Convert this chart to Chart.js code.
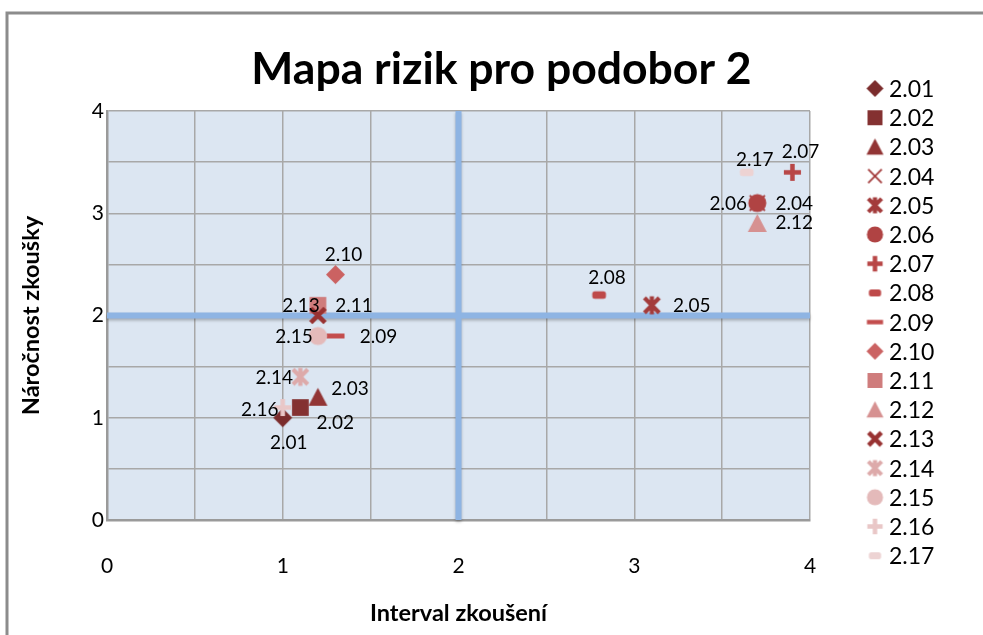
<!DOCTYPE html>
<html>
<head>
<meta charset="utf-8">
<script src="https://cdn.jsdelivr.net/npm/chart.js@4/dist/chart.umd.min.js"></script>
<style>
  html, body { margin: 0; padding: 0; background: #ffffff; }
  #wrap { position: relative; width: 983px; height: 635px; }
</style>
</head>
<body>
<div id="wrap"><canvas id="c" width="983" height="635"></canvas></div>
<script>
// ---- data ----
const seriesNames = ['2.01','2.02','2.03','2.04','2.05','2.06','2.07','2.08','2.09','2.10','2.11','2.12','2.13','2.14','2.15','2.16','2.17'];
const xValues = [1.0, 1.1, 1.2, 3.7, 3.1, 3.7, 3.9, 2.8, 1.3, 1.3, 1.2, 3.7, 1.2, 1.1, 1.2, 1.0, 3.64];
const yValues = [1.0, 1.1, 1.2, 3.1, 2.1, 3.1, 3.4, 2.2, 1.8, 2.4, 2.1, 2.9, 2.0, 1.4, 1.8, 1.1, 3.4];
const xTickLabels = ['0','1','2','3','4'];
const yTickLabels = ['0','1','2','3','4'];
const chartTitle = 'Mapa rizik pro podobor 2';
const xAxisTitle = 'Interval zkoušení';
const yAxisTitle = 'Náročnost zkoušky';
const thresholdX = 2;
const thresholdY = 2;

// ---- styles ----
const colors = ['#7B2C2C','#843131','#923535','#A33B3B','#A33B3B','#B04343','#B84646','#BE4949','#C34D4D','#CB6262','#CF7C7C','#D69191','#983232','#DDAAAA','#E4BABA','#E9C7C7','#EDD3D3'];
const shapes = ['diamond','square','triangle','x','star','circle','plus','dashShort','dashLong','diamond','square','triangle','xbold','star','circle','plus','dashShort'];
// label centre offsets (px) relative to the marker
const labelOffsets = [[6,25],[35,15],[32,-8],[37,1],[40,1],[-29,1],[8,-20],[8,-17],[43,1],[8,-20],[36,1],[37,-1],[-17,-10],[-26,1],[-24,1],[-23,2],[8,-12]];

function makeMarker(shape, color, s) {
  const pad = 3;
  const c = document.createElement('canvas');
  c.width = c.height = s + pad * 2;
  const g = c.getContext('2d');
  g.translate(c.width / 2, c.height / 2);
  const h = s / 2;
  g.fillStyle = color; g.strokeStyle = color; g.lineCap = 'butt';
  g.beginPath();
  switch (shape) {
    case 'diamond':
      g.moveTo(0, -h); g.lineTo(h, 0); g.lineTo(0, h); g.lineTo(-h, 0); g.closePath(); g.fill(); break;
    case 'square': {
      const q = h * 0.88; g.fillRect(-q, -q, 2 * q, 2 * q); break; }
    case 'triangle':
      g.moveTo(0, -h); g.lineTo(h, h * 0.9); g.lineTo(-h, h * 0.9); g.closePath(); g.fill(); break;
    case 'x': {
      const q = h * 0.8; g.lineWidth = 1.8;
      g.moveTo(-q, -q); g.lineTo(q, q); g.moveTo(q, -q); g.lineTo(-q, q); g.stroke(); break; }
    case 'xbold': {
      const q = h * 0.75; g.lineWidth = 4.5;
      g.moveTo(-q, -q); g.lineTo(q, q); g.moveTo(q, -q); g.lineTo(-q, q); g.stroke(); break; }
    case 'star': {
      const q = h * 0.78; g.lineWidth = 4.2;
      g.moveTo(-q, -q); g.lineTo(q, q); g.moveTo(q, -q); g.lineTo(-q, q);
      g.moveTo(0, -h * 0.95); g.lineTo(0, h * 0.95); g.stroke(); break; }
    case 'circle':
      g.arc(0, 0, h * 0.95, 0, Math.PI * 2); g.fill(); break;
    case 'plus': {
      const q = h * 0.9; g.lineWidth = 4.5;
      g.moveTo(-q, 0); g.lineTo(q, 0); g.moveTo(0, -q); g.lineTo(0, q); g.stroke(); break; }
    case 'dashShort': {
      const w = s * 0.72, hh = s * 0.4, r = 2.5;
      if (g.roundRect) { g.roundRect(-w / 2, -hh / 2, w, hh, r); g.fill(); } else g.fillRect(-w / 2, -hh / 2, w, hh);
      break; }
    case 'dashLong': {
      const w = s * 0.95, hh = s * 0.26; g.fillRect(-w / 2, -hh / 2, w, hh); break; }
  }
  return c;
}

const plotMarkers = shapes.map((sh, i) => makeMarker(sh, colors[i], 19));
const legendMarkers = shapes.map((sh, i) => makeMarker(sh, colors[i], 17));

const datasets = seriesNames.map((name, i) => ({
  label: name,
  data: [{ x: xValues[i], y: yValues[i] }],
  pointStyle: plotMarkers[i],
  backgroundColor: colors[i],
  borderColor: colors[i],
  order: -i,
  showLine: false
}));

const FONT = "Lato, 'Open Sans', 'Liberation Sans', sans-serif";

const framePlugin = {
  id: 'frame',
  beforeDraw(chart) {
    const { ctx, chartArea: a } = chart;
    ctx.save();
    ctx.fillStyle = '#ffffff';
    ctx.fillRect(0, 0, chart.width, chart.height);
    ctx.strokeStyle = '#8C8C8C';
    ctx.lineWidth = 3;
    ctx.beginPath();
    ctx.moveTo(7, chart.height); ctx.lineTo(7, 13); ctx.lineTo(chart.width, 13);
    ctx.stroke();
    ctx.fillStyle = '#DCE6F2';
    ctx.fillRect(a.left, a.top, a.right - a.left, a.bottom - a.top);
    ctx.restore();
  },
  beforeDatasetsDraw(chart) {
    const { ctx, chartArea: a, scales } = chart;
    const px = scales.x.getPixelForValue(thresholdX);
    const py = scales.y.getPixelForValue(thresholdY);
    ctx.save();
    ctx.strokeStyle = '#8EB4E3';
    ctx.lineWidth = 6;
    ctx.shadowColor = 'rgba(0,0,0,0.25)';
    ctx.shadowBlur = 3;
    ctx.shadowOffsetY = 2;
    ctx.beginPath();
    ctx.moveTo(px, a.top); ctx.lineTo(px, a.bottom);
    ctx.moveTo(a.left, py); ctx.lineTo(a.right, py);
    ctx.stroke();
    ctx.restore();
  },
  afterDatasetsDraw(chart) {
    const { ctx } = chart;
    ctx.save();
    ctx.font = '19px ' + FONT;
    ctx.fillStyle = '#000000';
    ctx.textAlign = 'center';
    ctx.textBaseline = 'middle';
    chart.data.datasets.forEach((ds, i) => {
      const el = chart.getDatasetMeta(i).data[0];
      if (!el) return;
      ctx.fillText(ds.label, el.x + labelOffsets[i][0], el.y + labelOffsets[i][1]);
    });
    ctx.restore();
  },
  afterDraw(chart) {
    const { ctx } = chart;
    ctx.save();
    ctx.font = '23px ' + FONT;
    ctx.fillStyle = '#000000';
    ctx.textAlign = 'left';
    ctx.textBaseline = 'middle';
    seriesNames.forEach((name, i) => {
      const y = 88.5 + i * 29.2;
      const m = legendMarkers[i];
      ctx.drawImage(m, 875 - m.width / 2, y - m.height / 2);
      ctx.fillText(name, 889, y + 1);
    });
    ctx.restore();
  }
};

new Chart(document.getElementById('c'), {
  type: 'scatter',
  data: { datasets },
  options: {
    responsive: false,
    animation: false,
    events: [],
    layout: { padding: { left: 20, right: 0, top: 0, bottom: 0 } },
    plugins: {
      legend: { display: false },
      tooltip: { enabled: false },
      title: {
        display: true,
        text: chartTitle,
        color: '#000000',
        font: { family: FONT, size: 44.5, weight: 'bold' },
        padding: { top: 43, bottom: 14.6 }
      }
    },
    scales: {
      x: {
        type: 'linear', min: 0, max: 4,
        ticks: {
          stepSize: 0.5, autoSkip: false, maxRotation: 0,
          color: '#000000', font: { family: FONT, size: 21 }, padding: 34,
          callback: v => Number.isInteger(v) ? xTickLabels[v] : ''
        },
        grid: { color: '#A8A8A8', lineWidth: 1.5, drawTicks: false },
        border: { display: true, color: '#9A9A9A', width: 2.5 },
        title: {
          display: true, text: xAxisTitle, color: '#000000',
          font: { family: FONT, size: 23.5, weight: 'bold' },
          padding: { top: 0, bottom: 7 }
        },
        afterFit(s) { s.height = 115; }
      },
      y: {
        type: 'linear', min: 0, max: 4,
        ticks: {
          stepSize: 0.5, autoSkip: false,
          color: '#000000', font: { family: FONT, size: 21 }, padding: 3,
          callback: v => Number.isInteger(v) ? yTickLabels[v] : ''
        },
        grid: { color: '#A8A8A8', lineWidth: 1.5, drawTicks: false },
        border: { display: true, color: '#9A9A9A', width: 2.5 },
        title: {
          display: true, text: yAxisTitle, color: '#000000',
          font: { family: FONT, size: 23.5, weight: 'bold' },
          padding: { top: -3, bottom: 0 }
        },
        afterFit(s) { s.width = 87; }
      },
      yr: {
        type: 'linear', position: 'right', display: true,
        ticks: { display: false }, grid: { display: false }, border: { display: false },
        afterFit(s) { s.width = 173; }
      }
    }
  },
  plugins: [framePlugin]
});
</script>
</body>
</html>
